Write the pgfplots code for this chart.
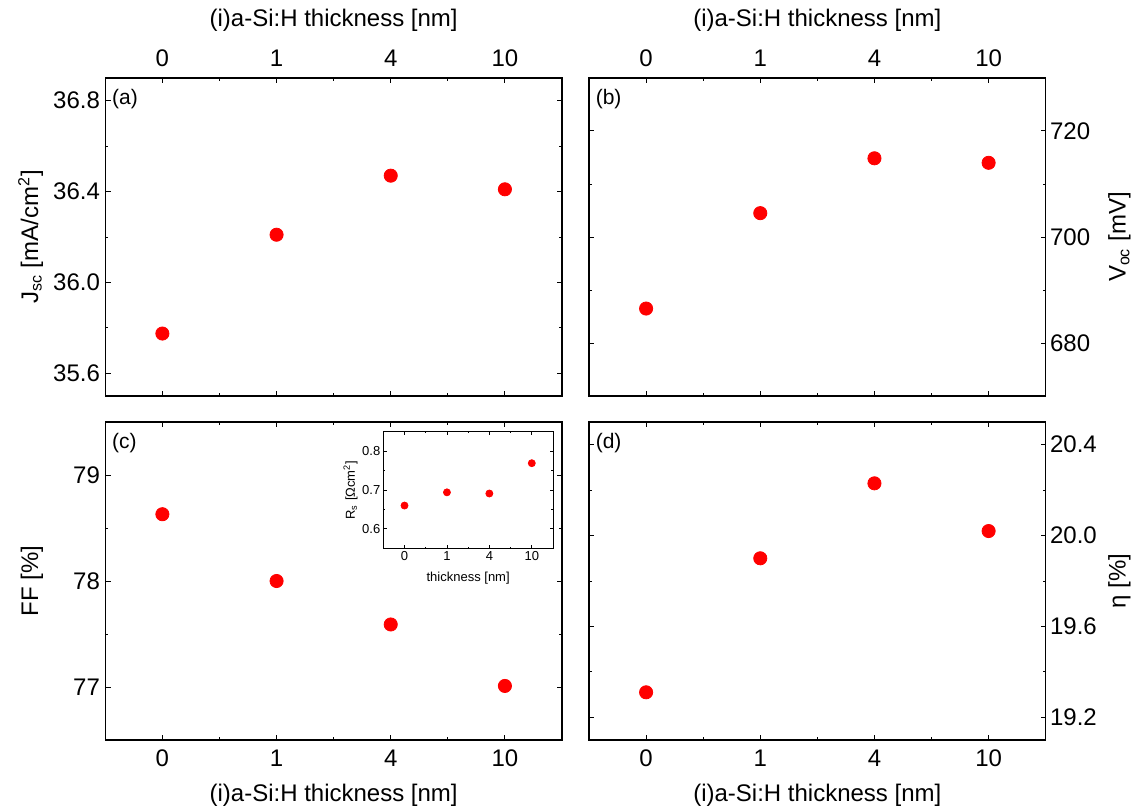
\documentclass[border=0pt]{standalone}
\usepackage{fontspec}
\setmainfont{Liberation Sans}
\usepackage{pgfplots}
\pgfplotsset{compat=1.18}
\definecolor{dotred}{RGB}{255,0,0}
% 1 px of the reference = 0.5pt
\pgfplotsset{
  panel/.style={
    scale only axis, width=228.35pt, height=159pt,
    xmin=-0.5, xmax=3.5, xtick={0,1,2,3}, xticklabels={0,1,4,10},
    minor x tick num=1, minor y tick num=1,
    tick align=inside, xtick pos=both, ytick pos=both,
    major tick length=2.6pt, minor tick length=1.3pt,
    axis line style={line width=0.6pt},
    tick style={black, line width=0.5pt},
    font=\fontsize{12}{14.4}\selectfont,
    /pgf/number format/assume math mode=true,
  },
  toplab/.style={
    xticklabel pos=right,
    xticklabel style={anchor=center, yshift=10pt},
    xlabel={(i)a-Si:H thickness [nm]},
    xlabel style={at={(axis description cs:0.5,1)}, anchor=center, yshift=29pt},
  },
  botlab/.style={
    xticklabel pos=left,
    xticklabel style={anchor=center, yshift=-9pt},
    xlabel={(i)a-Si:H thickness [nm]},
    xlabel style={at={(axis description cs:0.5,0)}, anchor=center, yshift=-27.5pt},
  },
  % the y label is rotated before it is shifted: yshift>0 moves it left
  leftlab/.style={
    yticklabel pos=left,
    yticklabel style={anchor=east, inner sep=0pt, xshift=-2.5pt},
    ylabel style={at={(axis description cs:0,0.5)}, anchor=base, yshift=33.6pt},
  },
  rightlab/.style={
    yticklabel pos=right,
    yticklabel style={anchor=west, inner sep=0pt, xshift=2pt},
    ylabel style={at={(axis description cs:1,0.5)}, anchor=base, yshift=-40pt},
  },
  dots/.style={only marks, mark=*, mark size=3.3pt, color=dotred},
  onedec/.style={yticklabel style={/pgf/number format/.cd, fixed, fixed zerofill, precision=1}},
}
\newcommand{\panellabel}[1]{\node[anchor=north west, inner sep=0pt, xshift=3.2pt, yshift=-5.5pt,
  font=\fontsize{10.5}{12}\selectfont] at (rel axis cs:0,1) {#1};}

\begin{document}
\begin{tikzpicture}
\path[use as bounding box] (0,0) rectangle (569pt,405pt);

% (a) Jsc
\begin{axis}[panel, toplab, leftlab, onedec, at={(52.65pt,207pt)}, anchor=south west,
  ymin=35.5, ymax=36.9, ytick={35.6,36.0,36.4,36.8},
  ylabel={J\textsubscript{sc} [mA/cm\textsuperscript{2}]}]
\addplot[dots] coordinates {(0,35.775) (1,36.21) (2,36.47) (3,36.41)};
\panellabel{(a)}
\end{axis}

% (b) Voc
\begin{axis}[panel, toplab, rightlab, at={(294.5pt,207pt)}, anchor=south west,
  ymin=670, ymax=730, ytick={680,700,720},
  ylabel={V\textsubscript{oc} [mV]}]
\addplot[dots] coordinates {(0,686.5) (1,704.5) (2,714.85) (3,714.0)};
\panellabel{(b)}
\end{axis}

% (c) FF
\begin{axis}[panel, botlab, leftlab, at={(52.65pt,35pt)}, anchor=south west,
  ymin=76.5, ymax=79.5, ytick={77,78,79},
  ylabel={FF [\%]}]
\addplot[dots] coordinates {(0,78.63) (1,78.0) (2,77.59) (3,77.01)};
\panellabel{(c)}
\end{axis}

% (d) efficiency
\begin{axis}[panel, botlab, rightlab, onedec, at={(294.5pt,35pt)}, anchor=south west,
  ymin=19.1, ymax=20.5, ytick={19.2,19.6,20.0,20.4},
  ylabel={η [\%]}]
\addplot[dots] coordinates {(0,19.31) (1,19.90) (2,20.23) (3,20.02)};
\panellabel{(d)}
\end{axis}

% inset: series resistance
\begin{axis}[scale only axis, width=84.85pt, height=58.3pt, at={(191.65pt,130.85pt)}, anchor=south west,
  axis background/.style={fill=white},
  xmin=-0.5, xmax=3.5, xtick={0,1,2,3}, xticklabels={0,1,4,10},
  ymin=0.55, ymax=0.85, ytick={0.6,0.7,0.8},
  minor x tick num=1, minor y tick num=1,
  tick align=inside, xtick pos=both, ytick pos=both,
  xticklabel pos=left, yticklabel pos=left,
  major tick length=1.6pt, minor tick length=0.8pt,
  axis line style={line width=0.5pt}, tick style={black, line width=0.4pt},
  font=\fontsize{6.5}{7.8}\selectfont,
  /pgf/number format/assume math mode=true,
  yticklabel style={anchor=east, inner sep=0pt, xshift=-1.3pt,
    /pgf/number format/.cd, fixed, fixed zerofill, precision=1},
  xticklabel style={anchor=center, yshift=-3.7pt},
  xlabel={thickness [nm]},
  xlabel style={at={(axis description cs:0.5,0)}, anchor=center, yshift=-14.9pt},
  ylabel={R\textsubscript{s} [Ωcm\textsuperscript{2}]},
  ylabel style={at={(axis description cs:0,0.5)}, anchor=base, yshift=14.2pt}]
\addplot[only marks, mark=*, mark size=1.75pt, color=dotred]
  coordinates {(0,0.66) (1,0.694) (2,0.691) (3,0.769)};
\end{axis}
\end{tikzpicture}
\end{document}
